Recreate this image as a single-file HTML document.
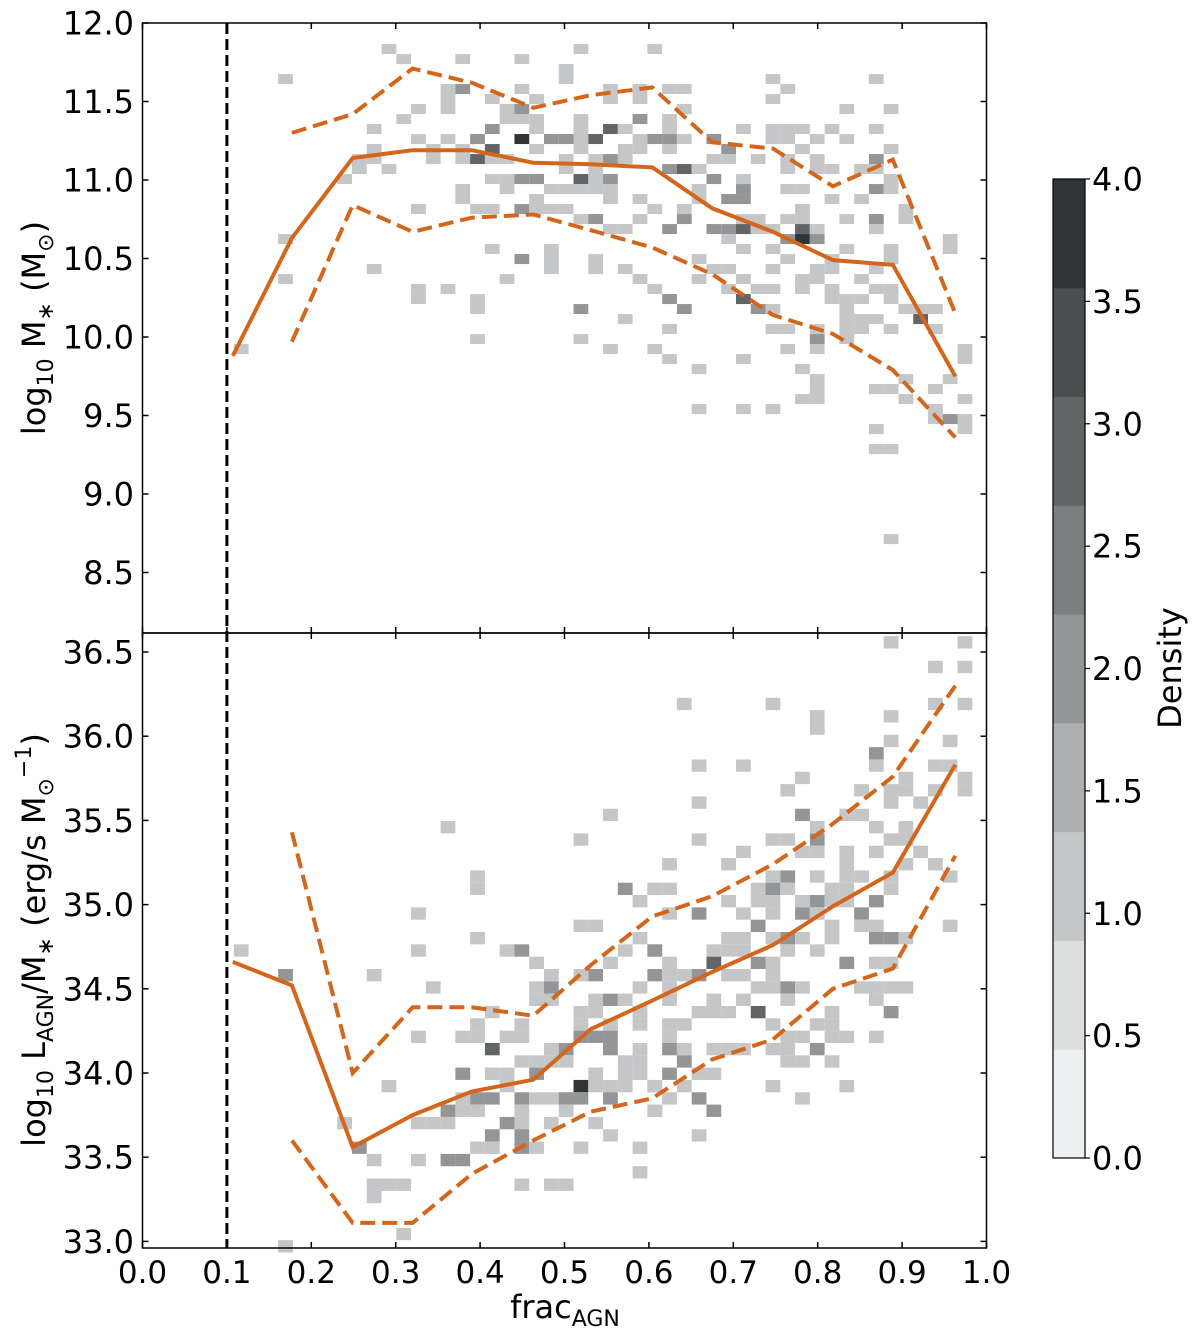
<!DOCTYPE html>
<html><head><meta charset="utf-8"><style>
html,body{margin:0;padding:0;background:#fff}
svg{display:block}
text{font-family:"DejaVu Sans","Liberation Sans",sans-serif;fill:#000}
</style></head><body>
<svg id="chart" width="1200" height="1338" viewBox="0 0 1200 1338" xmlns="http://www.w3.org/2000/svg"></svg>
<script>
// ---- data ----
const binCenters = [0.107,0.177,0.249,0.320,0.390,0.463,0.531,0.604,0.675,0.747,0.818,0.889,0.963];
const massMedian = [9.88,10.63,11.14,11.19,11.19,11.11,11.10,11.08,10.82,10.67,10.49,10.46,9.75];
const massUpper  = [null,11.30,11.42,11.71,11.62,11.46,11.54,11.59,11.24,11.20,10.96,11.13,10.15];
const massLower  = [null,9.97,10.84,10.67,10.76,10.78,10.68,10.57,10.40,10.14,10.02,9.79,9.36];
const lumMedian = [34.66,34.52,33.56,33.75,33.89,33.96,34.26,34.43,34.60,34.76,34.99,35.19,35.83];
const lumUpper  = [null,35.43,34.00,34.39,34.39,34.34,34.64,34.93,35.05,35.24,35.48,35.76,36.30];
const lumLower  = [null,33.60,33.11,33.11,33.40,33.60,33.77,33.85,34.08,34.20,34.50,34.62,35.29];
const fracCut = 0.1;
const xTicks = [0.0,0.1,0.2,0.3,0.4,0.5,0.6,0.7,0.8,0.9,1.0];
const topTicks = [8.5,9.0,9.5,10.0,10.5,11.0,11.5,12.0];
const botTicks = [33.0,33.5,34.0,34.5,35.0,35.5,36.0,36.5];
const cbTicks = [0.0,0.5,1.0,1.5,2.0,2.5,3.0,3.5,4.0];
// histogram bins
const binStart = 0.1607, binWidth = 0.0175;
const topRowStart = 11.866, topRowHeight = 0.0637;
const botRowStart = 36.594, botRowHeight = 0.0732;
// top panel cells: column, row, density
const topCol = [0,7,8,12,16,16,11,11,11,12,14,9,8,15,16,17,15,16,17,17,6,14,9,11,13,16,18,6,10,12,14,17,5,6,10,12,13,14,15,5,7,4,14,15,16,17,12,15,18,12,17,9,13,14,16,17,18,0,14,18,6,16,18,18,0,15,9,9,11,13,13,13,-3,
20,25,19,19,22,22,24,24,26,27,27,33,34,33,40,38,41,20,20,20,20,19,21,22,23,24,26,26,24,25,26,27,23,24,26,29,30,31,33,34,35,33,34,36,37,38,40,35,41,19,21,22,23,29,30,32,34,36,40,26,27,28,34,36,37,39,40,19,21,20,21,22,29,31,41,19,20,21,22,28,31,34,35,40,41,22,24,28,30,31,37,39,19,25,27,35,42,20,21,24,27,31,32,34,35,38,40,42,22,23,26,29,30,31,32,33,35,36,40,30,34,35,36,45,31,33,38,41,45,21,21,34,37,41,23,28,29,30,33,36,37,40,24,28,31,35,36,39,25,30,32,33,35,37,40,41,26,31,37,38,39,41,20,27,32,33,38,42,43,44,23,38,39,40,43,26,33,34,36,38,39,41,44,20,36,22,25,36,46,
26,31,28,34,38,35,36,36,36,35,28,31,33,46,42,45,40,41,44,42,46,44,44,45,46,46,40,40,41,41];
const topRow = [3,0,1,1,1,4,4,5,6,4,5,6,7,6,6,5,7,7,7,8,8,8,9,9,9,9,9,10,10,10,10,10,11,11,11,11,11,11,11,12,12,13,13,13,13,13,14,14,14,15,15,16,16,16,16,16,16,19,20,20,22,21,21,22,23,23,24,25,24,25,26,29,30,
0,0,2,3,4,5,4,5,4,4,6,3,4,5,3,6,6,7,8,9,10,9,9,8,8,7,7,8,9,9,9,9,10,10,10,9,10,8,8,8,8,9,9,9,8,9,8,10,10,11,11,11,11,11,11,11,11,11,11,12,12,12,12,12,12,12,12,12,12,13,13,13,13,13,13,14,14,14,14,14,14,14,14,14,14,15,15,15,15,15,15,15,16,16,16,16,16,17,17,17,17,17,17,17,17,17,17,17,18,18,18,18,18,18,18,18,18,18,18,19,19,19,19,19,20,20,20,20,20,21,22,21,21,21,22,21,22,22,22,22,22,22,23,23,23,23,23,23,24,24,24,24,24,24,24,24,25,25,25,25,25,25,26,26,26,26,26,26,26,26,27,27,27,27,27,28,28,28,28,28,28,28,28,29,29,30,30,30,30,
31,31,32,30,29,32,33,34,35,35,36,36,36,31,33,33,34,34,34,35,35,36,37,37,37,38,38,40,40,49];
const topDen = [1.1,1.1,1.1,1.1,1.1,1.1,1.1,1.1,1.1,2.1,1.1,1.1,1.1,1.1,2.1,1.1,1.1,1.1,1.1,1.1,1.1,2.1,1.1,1.1,2.1,3.8,2.1,1.1,1.1,1.1,3.0,1.1,1.1,1.1,1.1,1.1,3.0,1.1,1.1,1.1,1.1,1.1,1.1,1.1,2.1,2.1,1.1,1.1,1.1,1.1,1.1,1.1,1.1,1.1,2.1,1.1,1.1,1.1,1.1,1.1,1.1,2.1,1.1,1.1,1.1,1.1,1.1,1.1,1.1,1.1,1.1,1.1,1.1,
1.1,1.1,1.1,1.1,1.1,1.1,1.1,1.1,1.1,1.1,1.1,1.1,1.1,1.1,1.1,1.1,1.1,1.1,1.1,1.1,1.1,2.1,3.0,3.0,1.1,2.1,1.1,1.1,1.1,2.1,2.1,1.1,1.1,1.1,1.1,2.1,2.1,1.1,1.1,1.1,1.1,1.1,1.1,1.1,1.1,1.1,1.1,1.1,1.1,1.1,1.1,2.1,1.1,1.1,1.1,1.1,1.1,1.1,2.1,2.1,3.0,1.1,1.1,1.1,1.1,1.1,1.1,1.1,1.1,3.0,1.1,2.1,2.1,1.1,1.1,1.1,1.1,1.1,1.1,1.1,2.1,1.1,1.1,2.1,1.1,1.1,1.1,1.1,2.1,2.1,1.1,1.1,1.1,1.1,1.1,1.1,1.1,1.1,2.1,1.1,2.1,1.1,1.1,1.1,1.1,1.1,2.1,1.1,1.1,1.1,2.1,2.1,2.1,3.0,1.1,1.1,3.0,1.1,1.1,1.1,2.1,3.8,2.1,1.1,1.1,1.1,1.1,1.1,1.1,1.1,1.1,1.1,1.1,1.1,1.1,1.1,1.1,1.1,1.1,1.1,1.1,1.1,1.1,1.1,1.1,1.1,1.1,1.1,1.1,1.1,1.1,1.1,1.1,1.1,1.1,1.1,2.1,3.0,1.1,1.1,1.1,1.1,2.1,2.1,2.1,1.1,1.1,1.1,1.1,1.1,1.1,1.1,1.1,1.1,3.0,1.1,1.1,1.1,1.1,1.1,1.1,1.1,1.1,1.1,2.1,1.1,1.1,1.1,1.1,1.1,1.1,1.1,1.1,1.1,1.1,
1.1,1.1,1.1,1.1,1.1,1.1,1.1,1.1,1.1,1.1,1.1,1.1,1.1,1.1,1.1,1.1,1.1,2.1,1.1,1.1,1.1,1.1,1.1,1.1,1.1,1.1,1.1,1.1,1.1,1.1];
// bottom panel cells
const botCol = [-3,0,4,0,8,22,11,20,13,13,23,25,24,9,20,21,13,24,9,15,16,23,25,17,22,6,18,20,21,25,10,17,18,24,17,18,21,22,23,14,20,21,24,13,16,20,22,24,9,12,13,15,16,20,21,22,14,18,19,22,24,16,17,18,19,23,24,12,14,15,17,21,23,24,7,15,20,21,22,23,25,12,13,14,16,17,18,19,20,22,11,12,13,16,19,25,9,10,11,15,16,18,21,14,16,22,5,13,14,16,17,20,24,6,9,11,12,24,6,7,8,16,18,19,6,
41,46,44,46,27,33,44,46,36,36,41,41,45,40,40,28,31,44,45,35,42,46,46,34,39,41,41,42,44,28,43,35,38,39,36,40,42,28,33,34,36,41,42,31,35,36,38,40,43,26,30,38,42,44,33,34,36,38,39,41,45,25,26,32,33,34,37,38,41,30,32,33,35,36,37,38,40,26,28,31,33,35,36,39,32,37,39,40,45,30,31,33,34,35,37,40,41,42,25,29,30,31,34,36,26,29,32,33,38,40,41,26,27,28,30,31,33,26,32,33,34,35,39,40,41,42,26,29,31,34,40,28,29,30,32,37,41,26,27,33,36,37,26,34,35,37,38,40,26,27,29,30,31,33,34,36,27,34,35,37,26,29,
25,26,27,28,28,29,28,33,35,38,25];
const botRow = [25,27,39,49,48,14,15,16,19,20,20,20,21,22,23,23,24,24,25,25,25,25,25,26,26,27,27,27,27,27,28,28,28,28,29,29,29,29,29,30,30,30,30,31,31,31,31,31,32,32,32,32,32,32,32,32,33,33,33,33,33,34,34,34,34,34,34,35,35,35,35,35,35,35,36,36,36,36,36,36,36,37,37,37,37,37,37,37,37,37,38,38,38,38,38,38,39,39,39,39,39,39,39,40,40,40,41,41,41,41,41,41,41,42,42,42,42,43,44,44,44,44,44,44,45,
0,0,2,2,5,5,5,5,6,7,6,8,8,9,10,10,10,10,10,11,11,11,12,12,12,12,13,12,12,13,13,14,14,14,15,15,15,16,16,16,16,16,16,17,17,17,17,17,17,18,18,18,18,18,19,19,19,19,19,19,19,20,20,20,20,20,20,20,20,21,21,21,21,21,21,21,21,22,22,22,22,22,22,22,23,23,23,23,23,24,24,24,24,24,24,24,24,24,25,25,25,25,25,25,26,26,26,26,26,26,26,27,27,27,27,27,27,28,28,28,28,28,28,28,28,28,29,29,29,29,29,30,30,30,30,30,30,31,31,31,31,31,32,32,32,32,32,32,33,33,33,33,33,33,33,33,34,34,34,34,35,35,
36,37,36,35,37,38,40,36,37,36,38];
const botDen = [1.1,2.1,1.1,1.1,1.1,1.1,1.1,1.1,1.1,1.1,2.1,1.1,1.1,1.1,1.1,1.1,1.1,1.1,1.1,1.1,2.1,1.1,1.1,1.1,1.1,1.1,1.1,1.1,2.1,2.1,1.1,1.1,2.1,1.1,1.1,1.1,1.1,2.1,1.1,1.1,1.1,1.1,1.1,1.1,1.1,1.1,1.1,1.1,1.1,1.1,1.1,1.1,1.1,2.1,2.1,2.1,3.0,1.1,2.1,2.1,1.1,1.1,1.1,1.1,1.1,1.1,1.1,2.1,1.1,1.1,2.1,1.1,1.1,1.1,1.1,1.1,3.8,1.1,1.1,1.1,1.1,1.1,2.1,2.1,2.1,1.1,1.1,2.1,2.1,2.1,2.1,1.1,1.1,1.1,1.1,1.1,1.1,1.1,1.1,2.1,1.1,1.1,1.1,2.1,2.1,1.1,2.1,1.1,1.1,2.1,1.1,1.1,1.1,1.1,1.1,2.1,2.1,1.1,1.1,1.1,1.1,1.1,1.1,1.1,1.1,
1.1,1.1,1.1,1.1,1.1,1.1,1.1,1.1,1.1,1.1,1.1,1.1,1.1,2.1,1.1,1.1,1.1,1.1,1.1,1.1,1.1,1.1,1.1,1.1,1.1,1.1,1.1,1.1,1.1,1.1,1.1,2.1,1.1,1.1,1.1,1.1,1.1,1.1,1.1,1.1,2.1,1.1,1.1,1.1,1.1,1.1,1.1,1.1,1.1,1.1,1.1,1.1,1.1,1.1,1.1,2.1,1.1,1.1,1.1,1.1,1.1,1.1,1.1,1.1,2.1,1.1,1.1,1.1,1.1,1.1,1.1,1.1,1.1,2.1,1.1,1.1,2.1,1.1,2.1,1.1,1.1,2.1,1.1,2.1,2.1,1.1,1.1,1.1,1.1,1.1,1.1,1.1,2.1,1.1,1.1,2.1,2.1,1.1,2.1,1.1,1.1,1.1,1.1,1.1,1.1,3.0,2.1,1.1,2.1,1.1,1.1,1.1,1.1,2.1,1.1,1.1,1.1,1.1,1.1,1.1,2.1,1.1,1.1,1.1,1.1,1.1,1.1,1.1,1.1,1.1,1.1,1.1,1.1,1.1,3.0,1.1,2.1,1.1,1.1,1.1,1.1,1.1,1.1,1.1,1.1,1.1,1.1,1.1,2.1,1.1,1.1,1.1,1.1,1.1,1.1,2.1,2.1,1.1,1.1,1.1,2.1,1.1,1.1,1.1,1.1,
1.1,2.1,2.1,1.1,1.1,1.1,1.1,1.1,1.1,1.1,1.1];
const cbColors = ['#eeeff0','#dcdddd','#c5c6c7','#aeafb0','#949596','#7b7d7e','#626566','#4a4e4f','#303436'];

// ---- axes ----
const X0=142.5, XS=844;
const xPx = f => X0 + f*XS;
const topY = v => 23 + (12 - v)*157;
const botY = v => 652 + (36.5 - v)*168.4;
const TOP0=23, TOP1=633, BOT1=1248, XR=X0+XS;
const cbTop=179, cbBot=1158, cbL=1053, cbR=1085;
const cbY = d => cbBot - d/4*(cbBot-cbTop);
const colorFor = d => cbColors[Math.min(8, Math.floor(d/(4/9)))];

const NS='http://www.w3.org/2000/svg';
const svg=document.getElementById('chart');
function mk(tag, attrs, parent){const e=document.createElementNS(NS,tag);for(const k in attrs)e.setAttribute(k,attrs[k]);(parent||svg).appendChild(e);return e;}

function drawCells(cols, rows, dens, rowStart, rowH, yf, name){
  const g=mk('g',{});
  
  
  for(let i=0;i<cols.length;i++){
    const fx0=binStart+binWidth*cols[i], fx1=fx0+binWidth;
    const v0=rowStart-rowH*rows[i], v1=v0-rowH;
    const r=mk('rect',{x:xPx(fx0),y:yf(v0),width:xPx(fx1)-xPx(fx0),height:yf(v1)-yf(v0),fill:colorFor(dens[i])},g);
    
    
  }
}
drawCells(topCol, topRow, topDen, topRowStart, topRowHeight, topY, 'mass-heatmap');
drawCells(botCol, botRow, botDen, botRowStart, botRowHeight, botY, 'lum-heatmap');

function drawLine(vals, yf, dashed, name){
  const pts=[];
  vals.forEach((v,i)=>{ if(v!==null) pts.push(xPx(binCenters[i]).toFixed(1)+','+yf(v).toFixed(1)); });
  const p=mk('polyline',{points:pts.join(' '),fill:'none',stroke:'#d4661c','stroke-width':4,'stroke-linejoin':'miter'});
  if(dashed) p.setAttribute('stroke-dasharray','15,7');
  
  
}
drawLine(massMedian, topY, false, 'mass-median-line');
drawLine(massUpper, topY, true, 'mass-upper-line');
drawLine(massLower, topY, true, 'mass-lower-line');
drawLine(lumMedian, botY, false, 'lum-median-line');
drawLine(lumUpper, botY, true, 'lum-upper-line');
drawLine(lumLower, botY, true, 'lum-lower-line');

// cut line
const cut=mk('line',{x1:xPx(fracCut),x2:xPx(fracCut),y1:TOP0,y2:BOT1,stroke:'#000','stroke-width':3,'stroke-dasharray':'11,5'});



// frames
const f1=mk('rect',{x:X0,y:TOP0,width:XS,height:TOP1-TOP0,fill:'none',stroke:'#000','stroke-width':1.5});


const f2=mk('rect',{x:X0,y:TOP1,width:XS,height:BOT1-TOP1,fill:'none',stroke:'#000','stroke-width':1.5});



// x ticks on all horizontal spines
xTicks.forEach(t=>{
  const x=xPx(t);
  [[TOP0,1],[TOP1,-1],[TOP1,1],[BOT1,-1]].forEach(([y,d])=>{
    mk('line',{x1:x,x2:x,y1:y,y2:y+d*6,stroke:'#000','stroke-width':1.5});
  });
  const tl=mk('text',{x:x,y:1283,'font-size':31,'text-anchor':'middle'});
  tl.textContent=t.toFixed(1);
  
  
});
topTicks.forEach(t=>{
  const y=topY(t);
  mk('line',{x1:X0,x2:X0+6,y1:y,y2:y,stroke:'#000','stroke-width':1.5});
  mk('line',{x1:XR,x2:XR-6,y1:y,y2:y,stroke:'#000','stroke-width':1.5});
  const tl=mk('text',{x:134,y:y+11.5,'font-size':32,'text-anchor':'end'});
  tl.textContent=t.toFixed(1);
  
  
});
botTicks.forEach(t=>{
  const y=botY(t);
  mk('line',{x1:X0,x2:X0+6,y1:y,y2:y,stroke:'#000','stroke-width':1.5});
  mk('line',{x1:XR,x2:XR-6,y1:y,y2:y,stroke:'#000','stroke-width':1.5});
  const tl=mk('text',{x:134,y:y+11.5,'font-size':32,'text-anchor':'end'});
  tl.textContent=t.toFixed(1);
  
  
});

// colorbar
const cbg=mk('g',{});


cbColors.forEach((c,i)=>{
  const y0=cbY(i*4/9), y1=cbY((i+1)*4/9);
  mk('rect',{x:cbL,y:y1,width:cbR-cbL,height:y0-y1+0.5,fill:c},cbg);
});
mk('rect',{x:cbL,y:cbTop,width:cbR-cbL,height:cbBot-cbTop,fill:'none',stroke:'#000','stroke-width':1.2},cbg);
cbTicks.forEach(t=>{
  const y=cbY(t);
  mk('line',{x1:cbR,x2:cbR+5,y1:y,y2:y,stroke:'#000','stroke-width':1.2},cbg);
  const tl=mk('text',{x:cbR+7,y:y+11.5,'font-size':32},cbg);
  tl.textContent=t.toFixed(1);
  
  
});
</script>
<svg style="position:absolute;left:0;top:0" width="1200" height="1338">
<text transform="translate(45,328) rotate(-90)" text-anchor="middle" font-size="32" font-family="DejaVu Sans, Liberation Sans, sans-serif">log<tspan font-size="22" dy="8">10</tspan><tspan dy="-8"> M</tspan><tspan font-size="22" dy="8">∗</tspan><tspan dy="-8"> (M</tspan><tspan font-size="22" dy="8">⊙</tspan><tspan dy="-8">)</tspan></text>
<text transform="translate(45,940) rotate(-90)" text-anchor="middle" font-size="32" font-family="DejaVu Sans, Liberation Sans, sans-serif">log<tspan font-size="22" dy="8">10</tspan><tspan dy="-8"> L</tspan><tspan font-size="22" dy="8">AGN</tspan><tspan dy="-8">/M</tspan><tspan font-size="22" dy="8">∗</tspan><tspan dy="-8"> (erg/s M</tspan><tspan font-size="22" dy="8">⊙</tspan><tspan font-size="22" dy="-22">−1</tspan><tspan dy="14">)</tspan></text>
<text x="565" y="1318" text-anchor="middle" font-size="32" font-family="DejaVu Sans, Liberation Sans, sans-serif">frac<tspan font-size="22" dy="8">AGN</tspan></text>
<text transform="translate(1181,668) rotate(-90)" text-anchor="middle" font-size="32" font-family="DejaVu Sans, Liberation Sans, sans-serif">Density</text>
</svg>
</body></html>
